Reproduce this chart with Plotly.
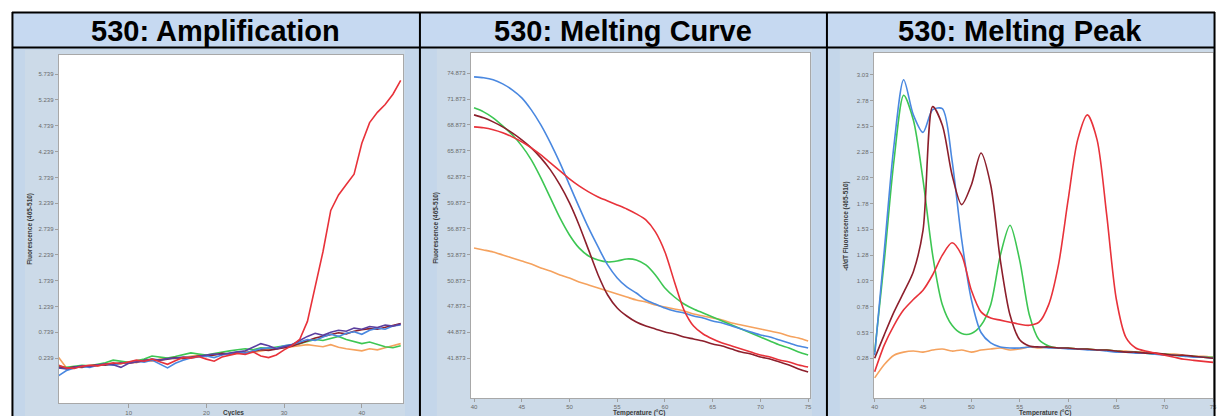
import plotly.graph_objects as go

W, H = 1226, 416

# ---------------- data ----------------
cycles = list(range(1, 46))
amp_red = [0.10, 0.05, 0.04, 0.08, 0.10, 0.09, 0.12, 0.15, 0.13, 0.16,
           0.20, 0.18, 0.22, 0.17, 0.12, 0.19, 0.25, 0.24, 0.27, 0.22,
           0.18, 0.26, 0.30, 0.33, 0.31, 0.36, 0.28, 0.25, 0.30, 0.40,
           0.48, 0.60, 0.95, 1.60, 2.30, 3.10, 3.40, 3.60, 3.80, 4.40,
           4.80, 5.00, 5.15, 5.35, 5.62]
amp_blue = [-0.10, 0.00, 0.05, 0.08, 0.06, 0.10, 0.12, 0.10, 0.14, 0.15,
            0.18, 0.16, 0.20, 0.12, 0.05, 0.14, 0.20, 0.24, 0.26, 0.28,
            0.25, 0.30, 0.33, 0.36, 0.34, 0.38, 0.42, 0.44, 0.43, 0.48,
            0.50, 0.55, 0.60, 0.58, 0.65, 0.70, 0.66, 0.72, 0.75, 0.70,
            0.78, 0.82, 0.80, 0.86, 0.88]
amp_purple = [0.05, 0.03, 0.06, 0.09, 0.08, 0.10, 0.13, 0.11, 0.06, 0.14,
              0.17, 0.19, 0.22, 0.20, 0.23, 0.24, 0.26, 0.25, 0.28, 0.30,
              0.32, 0.31, 0.34, 0.36, 0.38, 0.45, 0.52, 0.48, 0.42, 0.46,
              0.50, 0.58, 0.66, 0.72, 0.68, 0.74, 0.78, 0.76, 0.82, 0.80,
              0.85, 0.83, 0.88, 0.86, 0.90]
amp_green = [0.08, 0.06, 0.08, 0.10, 0.09, 0.12, 0.15, 0.20, 0.18, 0.16,
             0.19, 0.22, 0.28, 0.26, 0.24, 0.27, 0.30, 0.34, 0.32, 0.30,
             0.33, 0.36, 0.38, 0.40, 0.42, 0.40, 0.44, 0.43, 0.45, 0.47,
             0.50, 0.52, 0.56, 0.60, 0.58, 0.62, 0.66, 0.60, 0.56, 0.52,
             0.55, 0.50, 0.46, 0.44, 0.48]
amp_orange = [0.25, 0.05, 0.06, 0.08, 0.10, 0.09, 0.12, 0.11, 0.14, 0.16,
              0.15, 0.20, 0.18, 0.22, 0.24, 0.23, 0.25, 0.27, 0.30, 0.28,
              0.30, 0.32, 0.31, 0.34, 0.36, 0.35, 0.38, 0.40, 0.42, 0.44,
              0.46, 0.48, 0.50, 0.48, 0.46, 0.50, 0.45, 0.42, 0.40, 0.38,
              0.42, 0.40, 0.44, 0.48, 0.52]
amp_maroon = [0.06, 0.04, 0.07, 0.06, 0.09, 0.11, 0.10, 0.13, 0.15, 0.14,
              0.17, 0.19, 0.21, 0.20, 0.22, 0.25, 0.23, 0.26, 0.28, 0.27,
              0.30, 0.33, 0.32, 0.35, 0.34, 0.37, 0.40, 0.39, 0.41, 0.44,
              0.47, 0.52, 0.58, 0.63, 0.66, 0.70, 0.73, 0.71, 0.76, 0.79,
              0.81, 0.80, 0.84, 0.87, 0.91]

temps = list(range(40, 76))
mc_blue = [74.44, 74.33, 74.10, 73.63, 72.94, 72.01, 70.62, 68.88, 66.80, 64.48,
           61.93, 59.39, 56.95, 54.75, 52.67, 51.16, 50.12, 49.42, 48.61, 48.15,
           47.69, 47.34, 47.10, 46.76, 46.53, 46.18, 45.95, 45.60, 45.26, 44.91,
           44.56, 44.33, 43.98, 43.63, 43.29, 43.06]
mc_green = [70.85, 70.39, 69.70, 68.77, 67.73, 66.45, 64.83, 62.75, 60.43, 58.11,
            56.14, 54.64, 53.71, 53.25, 53.02, 53.13, 53.36, 53.25, 52.67, 51.51,
            50.00, 48.96, 48.15, 47.57, 47.11, 46.65, 46.18, 45.72, 45.26, 44.79,
            44.33, 43.86, 43.40, 43.06, 42.59, 42.24]
mc_darkred = [70.04, 69.70, 69.23, 68.65, 67.96, 67.15, 66.22, 65.06, 63.67, 61.93,
              59.85, 57.30, 54.41, 51.51, 49.19, 47.69, 46.76, 46.06, 45.60, 45.26,
              44.91, 44.68, 44.33, 44.10, 43.86, 43.52, 43.29, 42.94, 42.59, 42.36,
              42.01, 41.78, 41.43, 41.09, 40.62, 40.27]
mc_red = [68.65, 68.54, 68.31, 67.96, 67.49, 66.92, 66.22, 65.41, 64.48, 63.56,
          62.63, 61.82, 61.13, 60.54, 60.08, 59.62, 59.15, 58.58, 57.88, 56.49,
          54.17, 50.70, 47.45, 45.60, 44.68, 44.10, 43.63, 43.29, 42.94, 42.59,
          42.24, 42.01, 41.66, 41.43, 41.09, 40.85]
mc_orange = [54.64, 54.41, 54.17, 53.83, 53.48, 53.13, 52.78, 52.32, 51.97, 51.51,
             51.16, 50.70, 50.35, 50.00, 49.66, 49.31, 48.96, 48.61, 48.38, 48.03,
             47.80, 47.57, 47.34, 46.99, 46.76, 46.53, 46.30, 45.95, 45.72, 45.49,
             45.26, 45.02, 44.79, 44.45, 44.21, 43.86]

mp_blue = [0.31, 1.33, 2.35, 2.98, 2.64, 2.47, 2.69, 2.70, 2.20, 1.43,
           0.85, 0.53, 0.43, 0.39, 0.38, 0.38, 0.39, 0.39, 0.38, 0.38,
           0.37, 0.37, 0.36, 0.36, 0.35, 0.34, 0.34, 0.33, 0.33, 0.32,
           0.31, 0.31, 0.30, 0.29, 0.29, 0.28]
mp_green = [0.34, 1.23, 2.20, 2.83, 2.59, 2.01, 1.28, 0.80, 0.60, 0.52,
            0.52, 0.60, 0.80, 1.28, 1.57, 1.23, 0.70, 0.46, 0.40, 0.38,
            0.38, 0.37, 0.37, 0.36, 0.36, 0.35, 0.34, 0.34, 0.33, 0.32,
            0.32, 0.31, 0.30, 0.30, 0.29, 0.29]
mp_darkred = [0.28, 0.51, 0.73, 0.92, 1.12, 1.52, 2.72, 2.54, 2.06, 1.77,
              1.96, 2.27, 1.96, 1.23, 0.70, 0.46, 0.40, 0.39, 0.39, 0.38,
              0.38, 0.37, 0.37, 0.36, 0.36, 0.35, 0.34, 0.34, 0.33, 0.33,
              0.32, 0.31, 0.31, 0.30, 0.29, 0.28]
mp_red = [0.15, 0.41, 0.60, 0.75, 0.85, 0.94, 1.09, 1.28, 1.40, 1.28,
          0.94, 0.73, 0.67, 0.65, 0.63, 0.61, 0.60, 0.63, 0.80, 1.18,
          1.81, 2.40, 2.64, 2.40, 1.67, 0.85, 0.48, 0.38, 0.35, 0.33,
          0.31, 0.29, 0.27, 0.26, 0.25, 0.24]
mp_orange = [0.09, 0.22, 0.31, 0.34, 0.35, 0.34, 0.36, 0.37, 0.35, 0.36,
             0.34, 0.36, 0.37, 0.38, 0.36, 0.37, 0.39, 0.38, 0.39, 0.38,
             0.38, 0.37, 0.37, 0.36, 0.36, 0.35, 0.35, 0.34, 0.34, 0.33,
             0.32, 0.32, 0.31, 0.30, 0.30, 0.29]

amp_yticks = [0.239, 0.739, 1.239, 1.739, 2.239, 2.739, 3.239, 3.739, 4.239, 4.739, 5.239, 5.739]
amp_xticks = [10, 20, 30, 40]
mc_yticks = [41.873, 44.873, 47.873, 50.873, 53.873, 56.873, 59.873, 62.873, 65.873, 68.873, 71.873, 74.873]
mp_yticks = [0.28, 0.53, 0.78, 1.03, 1.28, 1.53, 1.78, 2.03, 2.28, 2.53, 2.78, 3.03]
temp_ticks = [40, 45, 50, 55, 60, 65, 70, 75]

titles = ["530: Amplification", "530: Melting Curve", "530: Melting Peak"]
ytitles = ["Fluorescence (465-510)", "Fluorescence (465-510)", "-d/dT Fluorescence (465-510)"]
xtitles = ["Cycles", "Temperature (°C)", "Temperature (°C)"]

C_RED = "#E8323A"
C_BLUE = "#4A88E0"
C_GREEN = "#3DC653"
C_ORANGE = "#F5A25E"
C_DARKRED = "#8C1F2C"
C_PURPLE = "#5B3F9F"

# ---------------- helpers ----------------
def px(x):
    return x / W

def py(y):
    return 1 - y / H

fig = go.Figure()

def add(xs, ys, color, n, shape="linear"):
    sfx = "" if n == 1 else str(n)
    fig.add_trace(go.Scatter(x=xs, y=ys, mode="lines",
                             line=dict(color=color, width=1.6, shape=shape, smoothing=0.8),
                             xaxis="x" + sfx, yaxis="y" + sfx, showlegend=False,
                             hoverinfo="skip"))

add(cycles, amp_orange, C_ORANGE, 1)
add(cycles, amp_green, C_GREEN, 1)
add(cycles, amp_maroon, C_DARKRED, 1)
add(cycles, amp_blue, C_BLUE, 1)
add(cycles, amp_purple, C_PURPLE, 1)
add(cycles, amp_red, C_RED, 1)

add(temps, mc_orange, C_ORANGE, 2, "spline")
add(temps, mc_green, C_GREEN, 2, "spline")
add(temps, mc_blue, C_BLUE, 2, "spline")
add(temps, mc_darkred, C_DARKRED, 2, "spline")
add(temps, mc_red, C_RED, 2, "spline")

add(temps, mp_orange, C_ORANGE, 3, "spline")
add(temps, mp_green, C_GREEN, 3, "spline")
add(temps, mp_blue, C_BLUE, 3, "spline")
add(temps, mp_darkred, C_DARKRED, 3, "spline")
add(temps, mp_red, C_RED, 3, "spline")

# plot rectangles in pixels (left, top, right, bottom)
boxes = [(57, 55, 403, 403), (471, 53, 812, 398), (876, 53, 1217, 398)]
xranges = [[1, 45.3], [39.65, 75.2], [39.9, 75.0]]
yranges = [[-0.63, 6.11], [37.27, 77.2], [-0.105, 3.24]]
yticks = [amp_yticks, mc_yticks, mp_yticks]
ytext = [["%.3f" % v for v in amp_yticks], ["%.3f" % v for v in mc_yticks], ["%.2f" % v for v in mp_yticks]]
xticks = [amp_xticks, temp_ticks, temp_ticks]
xticklen = [4, 3, 3]

axcommon = dict(showgrid=False, zeroline=False, showline=True, linecolor="#A8A8A8",
                linewidth=1, mirror=True, ticks="outside", ticklen=3, tickcolor="#A0A0A0",
                tickfont=dict(family="Arial, Liberation Sans", size=6, color="#6A6A6A"),
                fixedrange=True)

layout = dict(width=W, height=H, margin=dict(l=0, r=0, t=0, b=0),
              paper_bgcolor="#FFFFFF", plot_bgcolor="#FFFFFF", showlegend=False)
for i in range(3):
    l, t, r, b = boxes[i]
    sfx = "" if i == 0 else str(i + 1)
    layout["xaxis" + sfx] = dict(axcommon, domain=[px(l), px(r)], range=xranges[i],
                                 tickvals=xticks[i], anchor="y" + sfx, ticklen=xticklen[i])
    layout["yaxis" + sfx] = dict(axcommon, domain=[py(b), py(t)], range=yranges[i],
                                 tickvals=yticks[i], ticktext=ytext[i], anchor="x" + sfx)
fig.update_layout(**layout)

shapes = []
# table body (screenshot background)
shapes.append(dict(type="rect", xref="paper", yref="paper", x0=px(10), x1=px(1218),
                   y0=-0.01, y1=py(48), fillcolor="#C4D6EA", line_width=0, layer="below"))
# header band
shapes.append(dict(type="rect", xref="paper", yref="paper", x0=px(10), x1=px(1218),
                   y0=py(48), y1=py(12), fillcolor="#C6D9F1", line_width=0, layer="below"))
# lighter chart-control area and white plotting area
for (l, t, r, b) in boxes:
    shapes.append(dict(type="rect", xref="paper", yref="paper", x0=px(l - 34), x1=px(min(r + 2, 1217)),
                       y0=-0.01, y1=py(t - 5), fillcolor="#CCDAE8", line_width=0, layer="below"))
    shapes.append(dict(type="rect", xref="paper", yref="paper", x0=px(l), x1=px(r),
                       y0=py(b), y1=py(t), fillcolor="#FFFFFF", line_width=0, layer="below"))
# table borders
bl = dict(color="black", width=2)
for yv in (12.5, 47.5):
    shapes.append(dict(type="line", xref="paper", yref="paper", x0=px(10), x1=px(1219),
                       y0=py(yv), y1=py(yv), line=bl))
for xv in (10.5, 420, 829, 1218.5):
    shapes.append(dict(type="line", xref="paper", yref="paper", x0=px(xv), x1=px(xv),
                       y0=-0.01, y1=py(12), line=bl))
fig.update_layout(shapes=shapes)

ann = []
centers = [215, 624.5, 1023.5]
for i in range(3):
    ann.append(dict(text="<b>%s</b>" % titles[i], xref="paper", yref="paper",
                    x=px(centers[i]), y=py(30.5), xanchor="center", yanchor="middle",
                    showarrow=False, font=dict(family="Liberation Sans, Arial", size=29, color="black")))
ytpos = [(28, 229), (436, 228), (848, 226)]
for i in range(3):
    ann.append(dict(text="<b>%s</b>" % ytitles[i], xref="paper", yref="paper",
                    x=px(ytpos[i][0]), y=py(ytpos[i][1]), xanchor="center", yanchor="middle",
                    textangle=-90, showarrow=False,
                    font=dict(family="Arial, Liberation Sans", size=6.5, color="#3A3A3A")))
xtpos = [233, 640, 1048]
for i in range(3):
    ann.append(dict(text="<b>%s</b>" % xtitles[i], xref="paper", yref="paper",
                    x=px(xtpos[i]), y=py(412.5), xanchor="center", yanchor="middle",
                    showarrow=False,
                    font=dict(family="Arial, Liberation Sans", size=6.5, color="#3A3A3A")))
fig.update_layout(annotations=ann)

fig.write_html("out.html", config={"displayModeBar": False},
               post_script="document.body.style.margin='0';document.body.style.overflow='hidden';")
